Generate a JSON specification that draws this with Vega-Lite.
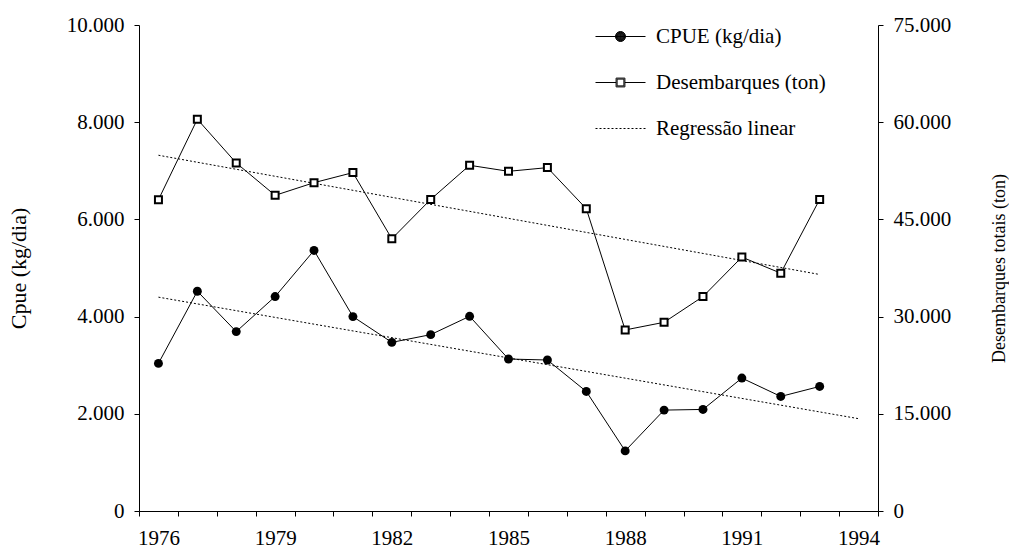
{
  "$schema": "https://vega.github.io/schema/vega-lite/v6.json",
  "width": 739,
  "height": 486,
  "autosize": {"type": "none"},
  "padding": {"left": 139, "top": 25, "right": 131, "bottom": 38},
  "background": "white",
  "config": {
    "font": "Liberation Serif",
    "view": {"stroke": null},
    "axis": {
      "domainColor": "black",
      "tickColor": "black",
      "labelColor": "black",
      "titleColor": "black",
      "labelFont": "Liberation Serif",
      "titleFont": "Liberation Serif",
      "labelFontSize": 21,
      "titleFontWeight": "normal",
      "grid": false,
      "tickSize": 5,
      "domainWidth": 1,
      "tickWidth": 1
    }
  },
  "datasets": {
    "main": [
      {"year": 1976, "cpue": 3037, "desemb": 48040},
      {"year": 1977, "cpue": 4522, "desemb": 60460},
      {"year": 1978, "cpue": 3691, "desemb": 53710},
      {"year": 1979, "cpue": 4412, "desemb": 48710},
      {"year": 1980, "cpue": 5361, "desemb": 50670},
      {"year": 1981, "cpue": 4000, "desemb": 52220},
      {"year": 1982, "cpue": 3470, "desemb": 42010},
      {"year": 1983, "cpue": 3629, "desemb": 48090},
      {"year": 1984, "cpue": 4006, "desemb": 53350},
      {"year": 1985, "cpue": 3127, "desemb": 52420},
      {"year": 1986, "cpue": 3107, "desemb": 52990},
      {"year": 1987, "cpue": 2460, "desemb": 46650},
      {"year": 1988, "cpue": 1237, "desemb": 27940},
      {"year": 1989, "cpue": 2076, "desemb": 29120},
      {"year": 1990, "cpue": 2090, "desemb": 33090},
      {"year": 1991, "cpue": 2735, "desemb": 39180},
      {"year": 1992, "cpue": 2357, "desemb": 36700},
      {"year": 1993, "cpue": 2563, "desemb": 48090}
    ],
    "regCpue": [
      {"year": 1976, "cpue": 4400},
      {"year": 1994, "cpue": 1900}
    ],
    "regDes": [
      {"year": 1976, "desemb": 54900},
      {"year": 1993, "desemb": 36500}
    ],
    "legendItems": [
      {"series": "CPUE (kg/dia)"},
      {"series": "Desembarques (ton)"},
      {"series": "Regressão linear"}
    ]
  },
  "encoding": {
    "x": {
      "field": "year",
      "type": "ordinal",
      "scale": {
        "type": "band",
        "domain": [1976, 1977, 1978, 1979, 1980, 1981, 1982, 1983, 1984, 1985, 1986, 1987, 1988, 1989, 1990, 1991, 1992, 1993, 1994],
        "paddingInner": 0,
        "paddingOuter": 0
      },
      "axis": {
        "title": null,
        "tickBand": "extent",
        "labelAngle": 0,
        "labelExpr": "datum.value % 3 == 2 ? '' + datum.value : ''",
        "labelPadding": 11,
        "tickSize": 5
      }
    }
  },
  "layer": [
    {
      "encoding": {
        "y": {
          "field": "cpue",
          "type": "quantitative",
          "scale": {"domain": [0, 10000], "nice": false, "zero": true},
          "axis": {
            "orient": "left",
            "title": "Cpue (kg/dia)",
            "values": [0, 2000, 4000, 6000, 8000, 10000],
            "labelExpr": "replace(format(datum.value, ','), ',', '.')",
            "labelPadding": 10,
            "titleFontSize": 22,
            "titlePadding": 36
          }
        }
      },
      "layer": [
        {"data": {"name": "main"}, "mark": {"type": "line", "color": "black", "strokeWidth": 1}},
        {"data": {"name": "regCpue"}, "mark": {"type": "line", "color": "black", "strokeWidth": 1, "strokeDash": [2, 2]}},
        {"data": {"name": "main"}, "mark": {"type": "point", "shape": "circle", "filled": true, "color": "black", "size": 80, "opacity": 1}}
      ]
    },
    {
      "encoding": {
        "y": {
          "field": "desemb",
          "type": "quantitative",
          "scale": {"domain": [0, 75000], "nice": false, "zero": true},
          "axis": {
            "orient": "right",
            "title": "Desembarques totais (ton)",
            "values": [0, 15000, 30000, 45000, 60000, 75000],
            "labelExpr": "replace(format(datum.value, ','), ',', '.')",
            "labelPadding": 10,
            "titleFontSize": 18,
            "titleAngle": 270,
            "titlePadding": 58
          }
        }
      },
      "layer": [
        {"data": {"name": "main"}, "mark": {"type": "line", "color": "black", "strokeWidth": 1}},
        {"data": {"name": "regDes"}, "mark": {"type": "line", "color": "black", "strokeWidth": 1, "strokeDash": [2, 2]}},
        {"data": {"name": "main"}, "mark": {"type": "point", "shape": "square", "filled": true, "fill": "white", "stroke": "black", "strokeWidth": 2, "size": 49, "opacity": 1}}
      ]
    },
    {
      "data": {"name": "legendItems"},
      "transform": [{"filter": "false"}],
      "mark": {"type": "point", "filled": false, "color": "black", "strokeWidth": 1, "opacity": 1},
      "encoding": {
        "shape": {
          "field": "series",
          "type": "nominal",
          "scale": {
            "domain": ["CPUE (kg/dia)", "Desembarques (ton)", "Regressão linear"],
            "range": [
              "M-1.25,0H1.25M-0.25,0A0.25,0.25 0 1,0 0.25,0A0.25,0.25 0 1,0 -0.25,0ZM-0.225,0A0.225,0.225 0 1,0 0.225,0A0.225,0.225 0 1,0 -0.225,0ZM-0.2,0A0.2,0.2 0 1,0 0.2,0A0.2,0.2 0 1,0 -0.2,0ZM-0.175,0A0.175,0.175 0 1,0 0.175,0A0.175,0.175 0 1,0 -0.175,0ZM-0.15,0A0.15,0.15 0 1,0 0.15,0A0.15,0.15 0 1,0 -0.15,0ZM-0.125,0A0.125,0.125 0 1,0 0.125,0A0.125,0.125 0 1,0 -0.125,0ZM-0.1,0A0.1,0.1 0 1,0 0.1,0A0.1,0.1 0 1,0 -0.1,0ZM-0.075,0A0.075,0.075 0 1,0 0.075,0A0.075,0.075 0 1,0 -0.075,0ZM-0.05,0A0.05,0.05 0 1,0 0.05,0A0.05,0.05 0 1,0 -0.05,0ZM-0.025,0A0.025,0.025 0 1,0 0.025,0A0.025,0.025 0 1,0 -0.025,0Z",
              "M-1.25,0H-0.22M0.22,0H1.25M-0.22,-0.22H0.22V0.22H-0.22ZM-0.17,-0.17H0.17V0.17H-0.17Z",
              "M-1.25,0H-1.15M-1.05,0H-0.95M-0.85,0H-0.75M-0.65,0H-0.55M-0.45,0H-0.35M-0.25,0H-0.15M-0.05,0H0.05M0.15,0H0.25M0.35,0H0.45M0.55,0H0.65M0.75,0H0.85M0.95,0H1.05M1.15,0H1.25"
            ]
          },
          "legend": {
            "title": null,
            "orient": "none",
            "legendX": 461,
            "legendY": -9,
            "padding": 0,
            "symbolSize": 1600,
            "symbolStrokeWidth": 1,
            "symbolStrokeColor": "black",
            "labelFont": "Liberation Serif",
            "labelFontSize": 21,
            "labelColor": "black",
            "labelOffset": 15,
            "rowPadding": 15,
            "labelLimit": 400
          }
        }
      }
    }
  ],
  "resolve": {"scale": {"y": "independent"}}
}
